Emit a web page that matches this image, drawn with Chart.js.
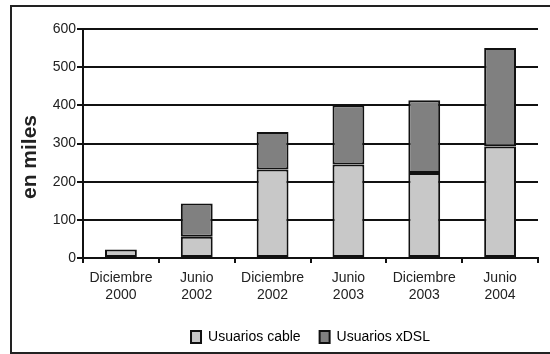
<!DOCTYPE html>
<html>
<head>
<meta charset="utf-8">
<script src="https://cdn.jsdelivr.net/npm/chart.js@4.4.1/dist/chart.umd.min.js"></script>
<style>
  html, body { margin: 0; padding: 0; background: #fff; }
  #wrap { position: relative; width: 550px; height: 354px; overflow: hidden; }
  #frame { position: absolute; left: 10px; top: 5px; width: 560px; height: 345px; border: 2px solid #222; }
  #c { position: absolute; left: 0; top: 0; }
</style>
</head>
<body>
<div id="wrap">
  <div id="frame"></div>
  <canvas id="c" width="550" height="354"></canvas>
</div>
<script>
const periodos = [
  ['Diciembre', '2000'],
  ['Junio', '2002'],
  ['Diciembre', '2002'],
  ['Junio', '2003'],
  ['Diciembre', '2003'],
  ['Junio', '2004']
];
const usuariosCable = [22, 56, 232, 245, 223, 292];
const usuariosXdsl = [0, 87, 98, 155, 190, 258];
const ticksY = [0, 100, 200, 300, 400, 500, 600];
const tituloY = 'en miles';

Chart.defaults.font.family = '"Liberation Sans", Arial, sans-serif';
Chart.defaults.font.size = 14;
Chart.defaults.color = '#222';

// vertical axis caption, sits a bit below the middle of the plot
const tituloEje = {
  id: 'tituloEje',
  afterDraw(chart) {
    const ctx = chart.ctx;
    ctx.save();
    ctx.translate(30, 157);
    ctx.rotate(-Math.PI / 2);
    ctx.font = 'bold 21px "Liberation Sans", Arial, sans-serif';
    ctx.fillStyle = '#222';
    ctx.textAlign = 'center';
    ctx.textBaseline = 'middle';
    ctx.fillText(tituloY, 0, 0);
    ctx.restore();
  }
};

new Chart(document.getElementById('c').getContext('2d'), {
  type: 'bar',
  data: {
    labels: periodos,
    datasets: [{
      label: 'Usuarios cable',
      data: usuariosCable,
      backgroundColor: '#c8c8c8',
      borderColor: '#111',
      borderWidth: 2,
      borderSkipped: false
    }, {
      label: 'Usuarios xDSL',
      data: usuariosXdsl,
      backgroundColor: '#808080',
      borderColor: '#111',
      borderWidth: 2,
      borderSkipped: false
    }]
  },
  options: {
    responsive: false,
    animation: false,
    layout: { padding: { left: 0, right: 12, top: 29, bottom: 0 } },
    datasets: { bar: { categoryPercentage: 1, barPercentage: 0.42 } },
    scales: {
      x: {
        stacked: true,
        afterFit: s => { s.height = 53; },
        border: { color: '#111', width: 2 },
        grid: { drawOnChartArea: false, color: '#111', lineWidth: 2, tickLength: 5 },
        ticks: { padding: 7, maxRotation: 0, font: { size: 14, lineHeight: 1.2 } }
      },
      y: {
        stacked: true,
        min: 0,
        max: 600,
        afterFit: s => { s.width = 83; },
        afterBuildTicks: s => { s.ticks = ticksY.map(v => ({ value: v })); },
        border: { color: '#111', width: 2 },
        grid: { color: '#111', lineWidth: 2, tickLength: 6 },
        ticks: { padding: 1 }
      }
    },
    plugins: {
      tooltip: { enabled: false },
      legend: {
        position: 'bottom',
        fullSize: false,
        labels: {
          boxWidth: 10,
          boxHeight: 12,
          padding: 19,
          color: '#222',
          font: { size: 14 },
          generateLabels: chart => chart.data.datasets.map((ds, i) => ({
            text: ds.label,
            fillStyle: ds.backgroundColor,
            strokeStyle: '#111',
            lineWidth: 2,
            datasetIndex: i
          }))
        }
      }
    }
  },
  plugins: [tituloEje]
});
</script>
</body>
</html>
